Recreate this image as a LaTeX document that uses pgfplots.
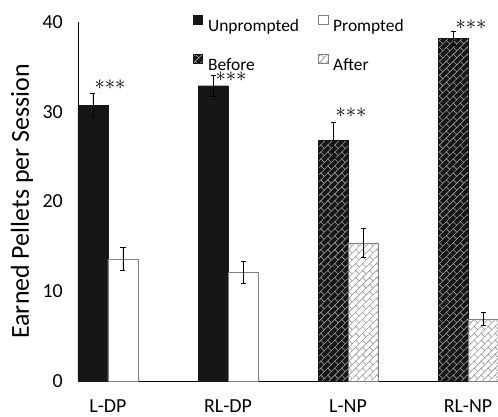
\documentclass[border=0pt]{standalone}
\usepackage{fontspec}
\setmainfont{Carlito}
\usepackage{pgfplots}
\pgfplotsset{compat=1.18}
\usetikzlibrary{patterns}
\pgfdeclarepatternformonly{dbrick}{\pgfqpoint{-1pt}{-1pt}}{\pgfqpoint{8pt}{8pt}}{\pgfqpoint{7pt}{7pt}}{%
  \pgfsetlinewidth{0.6pt}%
  \pgfpathmoveto{\pgfqpoint{-0.5pt}{-0.5pt}}\pgfpathlineto{\pgfqpoint{7.5pt}{7.5pt}}%
  \pgfpathmoveto{\pgfqpoint{3.5pt}{3.5pt}}\pgfpathlineto{\pgfqpoint{0pt}{7pt}}%
  \pgfusepath{stroke}}
\definecolor{barblack}{HTML}{161616}
\definecolor{edgegray}{HTML}{808080}
\definecolor{patgray}{HTML}{9A9A9A}
\newcommand{\stars}{$\mathord{\ast}\mathord{\ast}\mathord{\ast}$}
\begin{document}
\begin{tikzpicture}
\begin{axis}[
  name=ax,
  scale only axis, width=420bp, height=359bp,
  xmin=-0.25, xmax=3.25, ymin=0, ymax=40,
  axis x line*=bottom, axis y line*=left,
  axis line style={black, line width=0.8bp},
  major tick length=0pt,
  xtick={0,1,2,3}, xticklabels={L-DP,RL-DP,L-NP,RL-NP},
  ytick={0,10,20,30,40},
  /pgf/number format/assume math mode=true,
  yticklabel style={font=\fontsize{20}{22}\selectfont, inner sep=0pt, xshift=-15bp},
  xticklabel style={font=\fontsize{20}{22}\selectfont, inner sep=0pt, yshift=-19bp},
  ylabel={Earned Pellets per Session},
  every axis y label/.style={at={([xshift=-56bp]axis description cs:0,0.5)}, rotate=90, anchor=center, font=\fontsize{26}{28}\selectfont},
  ybar, bar width=30bp,
  clip=false,
  legend columns=2,
  legend cell align=left,
  legend style={draw=none, fill=none, inner sep=0pt, outer sep=0pt,
    at={(axis description cs:0.2738,1.02)}, anchor=north west,
    font=\fontsize{17.5}{20}\selectfont,
    nodes={inner sep=0pt},
    row sep=21bp,
    /tikz/every odd column/.append style={column sep=5bp},
    /tikz/every even column/.append style={column sep=19bp}},
  legend image code/.code={\draw[#1, line width=0.6bp] (0bp,1.5bp) rectangle (9.5bp,11bp);},
  error bars/y dir=both, error bars/y explicit,
  error bars/error mark options={rotate=90, mark size=2.5bp, line width=0.6bp, black},
  error bars/error bar style={line width=0.6bp, black},
]
\addplot[bar shift=-15bp, fill=barblack, draw=barblack] coordinates {
  (0,30.75) +- (0,1.3)
  (1,32.9) +- (0,1.2)
};
\addlegendentry{Unprompted}
\addplot[bar shift=15bp, fill=white, draw=edgegray] coordinates {
  (0,13.6) +- (0,1.3)
  (1,12.1) +- (0,1.25)
};
\addlegendentry{Prompted}
\addplot[bar shift=-15bp, fill=barblack, draw=barblack, postaction={pattern=dbrick, pattern color=patgray}] coordinates {
  (2,26.85) +- (0,2.0)
  (3,38.2) +- (0,0.8)
};
\addlegendentry{Before}
\addplot[bar shift=15bp, fill=white, draw=edgegray, postaction={pattern=dbrick, pattern color=patgray}] coordinates {
  (2,15.4) +- (0,1.6)
  (3,6.9) +- (0,0.7)
};
\addlegendentry{After}
\node[inner sep=0pt, anchor=center, font=\fontsize{22}{26}\selectfont] at (axis cs:0.017,33.0) {\stars};
\node[inner sep=0pt, anchor=center, font=\fontsize{22}{26}\selectfont] at (axis cs:1.025,33.9) {\stars};
\node[inner sep=0pt, anchor=center, font=\fontsize{22}{26}\selectfont] at (axis cs:2.025,29.9) {\stars};
\node[inner sep=0pt, anchor=center, font=\fontsize{22}{26}\selectfont] at (axis cs:3.025,39.7) {\stars};
\end{axis}
\pgfresetboundingbox
\path[use as bounding box] ([xshift=-78bp,yshift=-36bp]ax.south west) rectangle ([yshift=22bp]ax.north east);
\end{tikzpicture}
\end{document}
